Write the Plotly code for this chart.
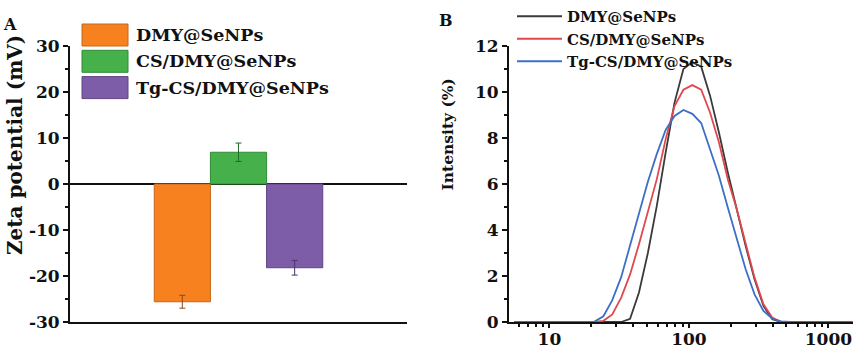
import plotly.graph_objects as go

# ---------------- data ----------------
categories = ["DMY@SeNPs", "CS/DMY@SeNPs", "Tg-CS/DMY@SeNPs"]
zeta = [-25.6, 6.9, -18.2]
zeta_err = [1.4, 2.0, 1.6]
bar_colors = ["#F7811E", "#46B04A", "#7E5DA8"]
bar_edge = ["#C8661A", "#2F8A35", "#5E4484"]
err_colors = ["#8A4A1C", "#1F6B25", "#4A3370"]

sizes = [5.615, 6.503, 7.531, 8.721, 10.1, 11.7, 13.54, 15.69, 18.17, 21.04,
         24.36, 28.21, 32.67, 37.84, 43.82, 50.75, 58.77, 68.06, 78.82, 91.28,
         105.7, 122.4, 141.8, 164.2, 190.1, 220.2, 255.0, 295.3, 342.0, 396.1,
         458.7, 531.2, 615.1, 712.4, 825.0, 955.4, 1106, 1281, 1484]
dmy = [0, 0, 0, 0, 0, 0, 0, 0, 0, 0,
       0, 0, 0, 0.14, 1.28, 3.0, 5.04, 7.36, 9.54, 11.0,
       11.3, 11.1, 9.83, 8.23, 6.49, 4.9, 3.3, 1.86, 0.7, 0.12,
       0, 0, 0, 0, 0, 0, 0, 0, 0]
cs_dmy = [0, 0, 0, 0, 0, 0, 0, 0, 0, 0,
          0.05, 0.33, 1.06, 2.07, 3.38, 4.75, 6.2, 7.94, 9.39, 10.1,
          10.3, 10.1, 9.1, 7.8, 6.2, 4.9, 3.38, 1.93, 0.77, 0.19,
          0, 0, 0, 0, 0, 0, 0, 0, 0]
tg_cs_dmy = [0, 0, 0, 0, 0, 0, 0, 0, 0, 0.02,
             0.25, 0.95, 1.95, 3.3, 4.7, 6.1, 7.3, 8.35, 8.96, 9.22,
             9.05, 8.65, 7.5, 6.35, 4.97, 3.6, 2.29, 1.2, 0.48, 0.14,
             0.03, 0, 0, 0, 0, 0, 0, 0, 0]
line_names = ["DMY@SeNPs", "CS/DMY@SeNPs", "Tg-CS/DMY@SeNPs"]
line_colors = ["#3A3A3A", "#E0474F", "#3C6FC6"]

yticksA = [-30, -20, -10, 0, 10, 20, 30]
yticksB = [0, 2, 4, 6, 8, 10, 12]
xticksB = [10, 100, 1000]
xminorB = [6, 7, 8, 9, 20, 30, 40, 50, 60, 70, 80, 90,
           200, 300, 400, 500, 600, 700, 800, 900]

W, H = 859, 354
FONT = "DejaVu Serif"
INK = "#111111"

fig = go.Figure()

# ---------------- panel A: bars ----------------
for i, c in enumerate(categories):
    fig.add_trace(go.Bar(
        x=[c], y=[zeta[i]], width=1.0,
        marker=dict(color=bar_colors[i], line=dict(color=bar_edge[i], width=1)),
        error_y=dict(type="data", array=[zeta_err[i]], color=err_colors[i],
                     thickness=1, width=3),
        showlegend=False, xaxis="x", yaxis="y"))

# ---------------- panel B: lines ----------------
for name, ys, col in zip(line_names, [dmy, cs_dmy, tg_cs_dmy], line_colors):
    fig.add_trace(go.Scatter(
        x=sizes, y=ys, mode="lines", name=name,
        line=dict(color=col, width=1.8),
        xaxis="x2", yaxis="y2"))

ydom = [1 - 322 / H, 1 - 46 / H]
tickfont = dict(family=FONT, size=17, color=INK, weight="bold")

fig.update_layout(
    template="none",
    width=W, height=H,
    margin=dict(l=0, r=0, t=0, b=0, pad=0, autoexpand=False),
    paper_bgcolor="white", plot_bgcolor="white",
    barmode="overlay",
    xaxis=dict(domain=[70 / W, 407 / W], type="category",
               categoryorder="array", categoryarray=categories,
               range=[-2, 4], showticklabels=False, ticks="",
               showline=True, linecolor=INK, linewidth=2,
               showgrid=False, zeroline=False, anchor="y", automargin=False),
    yaxis=dict(domain=ydom, range=[-30, 30], tickvals=yticksA,
               ticktext=[str(v) for v in yticksA],
               ticks="outside", ticklen=5, tickwidth=2, tickcolor=INK,
               minor=dict(dtick=5, ticks="outside", ticklen=3, tickwidth=1.5,
                          tickcolor=INK, showgrid=False),
               showline=True, linecolor=INK, linewidth=2,
               showgrid=False, zeroline=True, zerolinecolor=INK,
               zerolinewidth=2, tickfont=tickfont, anchor="x", automargin=False),
    xaxis2=dict(domain=[509 / W, 853 / W], type="log",
                range=[0.71, 3.176], tickvals=xticksB,
                ticktext=[str(v) for v in xticksB],
                ticks="outside", ticklen=4, tickwidth=2, tickcolor=INK,
                minor=dict(tickmode="array", tickvals=xminorB, ticks="outside",
                           ticklen=3, tickwidth=1.5, tickcolor=INK,
                           showgrid=False),
                showline=True, linecolor=INK, linewidth=2,
                showgrid=False, zeroline=False, tickfont=tickfont,
                ticklabelstandoff=-3, anchor="y2", automargin=False),
    yaxis2=dict(domain=ydom, range=[0, 12], tickvals=yticksB,
                ticks="outside", ticklen=5, tickwidth=2, tickcolor=INK,
                minor=dict(dtick=1, ticks="outside", ticklen=3, tickwidth=1.5,
                           tickcolor=INK, showgrid=False),
                showline=True, linecolor=INK, linewidth=2,
                showgrid=False, zeroline=False, tickfont=tickfont,
                anchor="x2", automargin=False),
    legend=dict(x=512 / W, y=1.0, xanchor="left", yanchor="top",
                bgcolor="rgba(0,0,0,0)", borderwidth=0,
                font=dict(family=FONT, size=15, color=INK, weight="bold"),
                itemwidth=45),
)

# ---------------- manual legend for panel A (large swatches) ----------------
for i, c in enumerate(categories):
    top = 24 + 26.3 * i
    fig.add_shape(type="rect", xref="paper", yref="paper",
                  x0=82 / W, x1=128 / W, y0=1 - top / H, y1=1 - (top + 22) / H,
                  fillcolor=bar_colors[i], line=dict(color=bar_edge[i], width=1))
    fig.add_annotation(x=134 / W, y=1 - (top + 11) / H, xref="paper", yref="paper",
                       xanchor="left", yanchor="middle", showarrow=False,
                       text=c, font=dict(family=FONT, size=17.5, color=INK,
                                         weight="bold"))

# ---------------- titles and panel letters ----------------
fig.add_annotation(x=15 / W, y=1 - 145 / H, xref="paper", yref="paper",
                   text="Zeta potential (mV)", textangle=-90, showarrow=False,
                   xanchor="center", yanchor="middle",
                   font=dict(family=FONT, size=20, color=INK, weight="bold"))
fig.add_annotation(x=447 / W, y=1 - 134.5 / H, xref="paper", yref="paper",
                   text="Intensity (%)", textangle=-90, showarrow=False,
                   xanchor="center", yanchor="middle",
                   font=dict(family=FONT, size=15.5, color=INK, weight="bold"))
fig.add_annotation(x=10 / W, y=1 - 24 / H, xref="paper", yref="paper",
                   text="A", showarrow=False, xanchor="center", yanchor="middle",
                   font=dict(family=FONT, size=16, color=INK, weight="bold"))
fig.add_annotation(x=446 / W, y=1 - 21 / H, xref="paper", yref="paper",
                   text="B", showarrow=False, xanchor="center", yanchor="middle",
                   font=dict(family=FONT, size=16, color=INK, weight="bold"))

fig.write_html("out.html")
